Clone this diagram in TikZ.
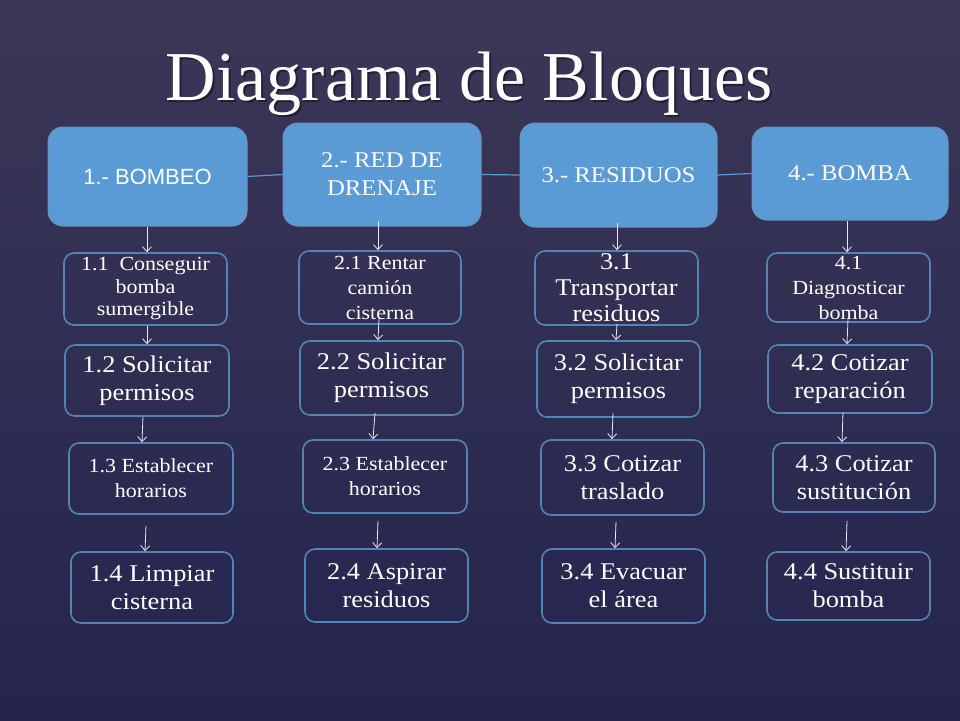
\documentclass[tikz,border=0pt]{standalone}
\usepackage{fontspec}
\setmainfont[FakeStretch=1.1]{Liberation Serif}
\newfontfamily\titlefont{Liberation Serif}
\newfontfamily\hsans{Liberation Sans}
\usetikzlibrary{arrows.meta}
\definecolor{bgtop}{RGB}{59,55,87}
\definecolor{bgbot}{RGB}{36,36,78}
\definecolor{hdrfill}{RGB}{91,155,213}
\definecolor{hdrline}{RGB}{105,145,185}
\definecolor{subline}{RGB}{84,132,180}
\definecolor{arrcol}{RGB}{232,232,242}
\begin{document}
\begin{tikzpicture}[x=1pt,y=-1pt,
  hdr/.style={draw=hdrline, line width=1pt, fill=hdrfill, rounded corners=15pt, text=white, align=center, inner sep=0pt},
  sub/.style={draw=subline, line width=1.6pt, rounded corners=10pt, text=white, align=center, inner sep=0pt},
  big/.style={font=\fontsize{24}{28}\selectfont},
  small/.style={font=\fontsize{20}{25}\selectfont},
  hfont/.style={font=\fontsize{22.5}{28}\selectfont},
  arr/.style={draw=arrcol, line width=0.8pt, -{Straight Barb[length=5pt,width=9pt]}},
  link/.style={draw=hdrfill, line width=1.2pt}]
\shade[top color=bgtop, bottom color=bgbot] (0,0) rectangle (960,720);
\useasboundingbox (0,0) rectangle (960,720);
% title
\node[anchor=base, text=black, opacity=0.4, font=\titlefont\fontsize{70}{70}\selectfont] (titleshadow) at (471,102) {Diagrama de Bloques};
\node[anchor=base, text=white, font=\titlefont\fontsize{70}{70}\selectfont] (title) at (469,100) {Diagrama de Bloques};
% headers
\node[hdr, minimum width=199pt, minimum height=99pt, font=\hsans\fontsize{22}{26}\selectfont] (h1) at (147.5,176.5) {1.- BOMBEO};
\node[hdr, hfont, minimum width=198pt, minimum height=103pt] (h2) at (382,174.5) {2.- RED DE\\DRENAJE};
\node[hdr, hfont, minimum width=197pt, minimum height=104pt] (h3) at (618.5,175) {3.- RESIDUOS};
\node[hdr, hfont, minimum width=196pt, minimum height=93pt] (h4) at (850,173.5) {4.- BOMBA};
\draw[link] (h1.east) -- (h2.west);
\draw[link] (h2.east) -- (h3.west);
\draw[link] (h3.east) -- (h4.west);
% column 1
\node[sub, font=\fontsize{20}{22.5}\selectfont, minimum width=163pt, minimum height=72pt] (s11) at (145.5,289) {1.1~~Conseguir\\bomba\\sumergible};
\node[sub, big, minimum width=164pt, minimum height=71pt] (s12) at (147,380.5) {1.2 Solicitar\\permisos};
\node[sub, small, minimum width=164pt, minimum height=71pt] (s13) at (151,478.5) {1.3 Establecer\\horarios};
\node[sub, big, minimum width=162pt, minimum height=71pt] (s14) at (152,587.5) {1.4 Limpiar\\cisterna};
% column 2
\node[sub, small, minimum width=162pt, minimum height=73pt] (s21) at (380,287.5) {2.1 Rentar\\camión\\cisterna};
\node[sub, big, minimum width=163pt, minimum height=74pt] (s22) at (381.5,378) {2.2 Solicitar\\permisos};
\node[sub, small, minimum width=164pt, minimum height=73pt] (s23) at (385,476.5) {2.3 Establecer\\horarios};
\node[sub, big, minimum width=163pt, minimum height=73pt] (s24) at (386.5,585.5) {2.4 Aspirar\\residuos};
% column 3
\node[sub, font=\fontsize{24}{26}\selectfont, minimum width=163pt, minimum height=74pt] (s31) at (616.5,288) {3.1\\Transportar\\residuos};
\node[sub, big, minimum width=163pt, minimum height=76pt] (s32) at (618.5,379) {3.2 Solicitar\\permisos};
\node[sub, big, minimum width=163pt, minimum height=75pt] (s33) at (622.5,477.5) {3.3 Cotizar\\traslado};
\node[sub, big, minimum width=163pt, minimum height=74pt] (s34) at (623.5,586) {3.4 Evacuar\\el área};
% column 4
\node[sub, small, minimum width=163pt, minimum height=69pt] (s41) at (848.5,287.5) {4.1\\Diagnosticar\\bomba};
\node[sub, big, minimum width=164pt, minimum height=68pt] (s42) at (850,379) {4.2 Cotizar\\reparación};
\node[sub, big, minimum width=162pt, minimum height=69pt] (s43) at (854,477.5) {4.3 Cotizar\\sustitución};
\node[sub, big, minimum width=163pt, minimum height=68pt] (s44) at (848.5,586) {4.4 Sustituir\\bomba};
% arrows
\draw[arr] ([xshift=-0.5pt]h1.south) -- ([xshift=1.5pt]s11.north);
\draw[arr] ([xshift=1.5pt]s11.south) -- (s12.north);
\draw[arr] ([xshift=-4pt]s12.south) -- ([xshift=-9pt]s13.north);
\draw[arr] ([xshift=-5pt,yshift=-11pt]s13.south) -- ([xshift=-7pt]s14.north);
\draw[arr] ([xshift=-4pt,yshift=6pt]h2.south) -- ([xshift=-2pt]s21.north);
\draw[arr] ([xshift=-1pt,yshift=6pt]s21.south) -- ([xshift=-3.5pt]s22.north);
\draw[arr] ([xshift=-6.5pt,yshift=3pt]s22.south) -- ([xshift=-12pt]s23.north);
\draw[arr] ([xshift=-7pt,yshift=-7pt]s23.south) -- ([xshift=-9.5pt]s24.north);
\draw[arr] ([xshift=-1.5pt,yshift=5pt]h3.south) -- ([xshift=0.5pt]s31.north);
\draw[arr] ([xshift=0.5pt,yshift=2pt]s31.south) -- ([xshift=-2.5pt]s32.north);
\draw[arr] ([xshift=-5.5pt,yshift=5pt]s32.south) -- ([xshift=-10.5pt]s33.north);
\draw[arr] ([xshift=-6.5pt,yshift=-6pt]s33.south) -- ([xshift=-8.5pt]s34.north);
\draw[arr] ([xshift=-3pt]h4.south) -- ([xshift=-1.5pt]s41.north);
\draw[arr] ([xshift=-0.5pt,yshift=4pt]s41.south) -- ([xshift=-3pt]s42.north);
\draw[arr] ([xshift=-7pt,yshift=2pt]s42.south) -- ([xshift=-12pt]s43.north);
\draw[arr] ([xshift=-7pt,yshift=-8pt]s43.south) -- ([xshift=-2.5pt]s44.north);
\end{tikzpicture}
\end{document}
